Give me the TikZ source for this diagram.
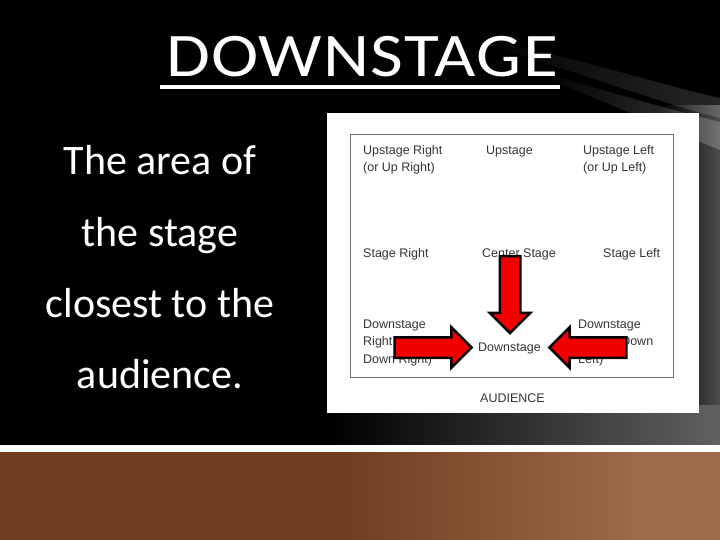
\documentclass[tikz,border=0pt]{standalone}
\usepackage{fontspec}
\setmainfont{Carlito}
\newfontfamily\titlefont[FakeStretch=1.15,LetterSpace=2]{Carlito}
\newfontfamily\panelfont{Liberation Sans}
\usetikzlibrary{shapes.arrows,fadings}
\definecolor{slidebrown}{HTML}{6F3D1F}
\definecolor{slidebrownlight}{HTML}{9D6B4B}
\definecolor{paneltext}{HTML}{353535}
\definecolor{panelline}{HTML}{707070}
\definecolor{arrowred}{HTML}{F20000}
\tikzfading[name=fadein east, left color=transparent!100, right color=transparent!0]
\tikzset{
  bodytext/.style={text=white, font=\fontsize{42}{42}\selectfont, anchor=base, inner sep=0pt},
  stagelabel/.style={text=paneltext, font=\panelfont\fontsize{12.5}{12.5}\selectfont, anchor=base west, inner sep=0pt},
  blockarrow/.style={single arrow, draw=black, line width=2.5pt, fill=arrowred, inner xsep=0pt, inner ysep=9pt,
    single arrow head extend=10pt, minimum height=77pt},
}

\begin{document}
\begin{tikzpicture}[x=1pt,y=-1pt]
    \useasboundingbox (0,0) rectangle (720,540);

    % backdrop
    \fill[black] (0,0) rectangle (720,445);
    \fill[white, opacity=0.3, path fading=fadein east] (660,105) rectangle (720,405);
    \shade[left color=black, right color=black!62!white] (330,405) rectangle (720,445);
    \fill[white, opacity=0.15, path fading=fadein east] (470,36) .. controls (580,58) and (660,85) .. (720,98)
        -- (720,118) .. controls (650,100) and (580,72) .. (470,40) -- cycle;
    \fill[white, opacity=0.22, path fading=fadein east] (540,72) .. controls (610,92) and (670,110) .. (720,122)
        -- (720,150) .. controls (670,130) and (610,104) .. (540,76) -- cycle;
    \fill[white] (0,445) rectangle (720,452);
    \fill[slidebrown] (0,452) rectangle (720,540);
    \shade[left color=slidebrown, right color=slidebrownlight] (340,452) rectangle (640,540);
    \fill[slidebrownlight] (640,452) rectangle (720,540);

    % heading and text
    \node[text=white, font=\titlefont\fontsize{62}{62}\selectfont, anchor=base, inner sep=0pt] (title) at (362,77) {DOWNSTAGE};
    \draw[white, line width=4pt] ([xshift=-6pt,yshift=-10pt]title.base west) -- ([xshift=2pt,yshift=-10pt]title.base east);
    \foreach \line [count=\i] in {The area of, the stage, closest to the, audience.} {
        \node[bodytext] (body_\i) at (160, {104+71*\i}) {\line};
    }

    % stage picture
    \fill[white] (327,113) rectangle (699,413);
    \draw[panelline, line width=1pt] (350,135) rectangle (673,377);
    \begin{scope}
        \tikzstyle{every node}=[stagelabel]
        \node (ur_1) at (363,155) {Upstage Right};
        \node (ur_2) at (363,172) {(or Up Right)};
        \node (up) at (486,155) {Upstage};
        \node (ul_1) at (583,155) {Upstage Left};
        \node (ul_2) at (583,172) {(or Up Left)};
        \node (sr) at (363,257) {Stage Right};
        \node (cs) at (482,257) {Center Stage};
        \node (sl) at (603,257) {Stage Left};
        \node (dr_1) at (363,328) {Downstage};
        \node (dr_2) at (363,345) {Right (or};
        \node (dr_3) at (363,363) {Down Right)};
        \node (dl_1) at (578,328) {Downstage};
        \node (dl_2) at (578,345) {Left (or Down};
        \node (dl_3) at (578,363) {Left)};
        \node (ds) at (478,351) {Downstage};
        \node (aud) at (480,402) {AUDIENCE};
    \end{scope}

    % arrows
    \node[blockarrow, rotate=-90] (arrow_down) at (510,289.5) {};
    \node[blockarrow] (arrow_right) at (428,347.5) {};
    \node[blockarrow, rotate=180] (arrow_left) at (593,347.5) {};

\end{tikzpicture}
\end{document}
